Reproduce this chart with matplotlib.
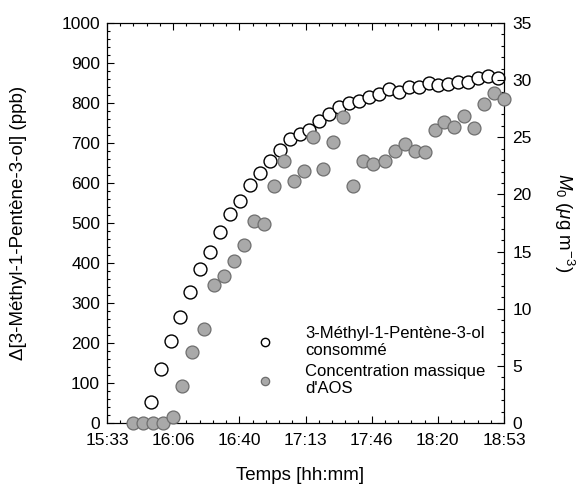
import numpy as np
import matplotlib
matplotlib.use("Agg")
import matplotlib.pyplot as plt
from matplotlib.lines import Line2D
from matplotlib.ticker import FixedLocator, FuncFormatter, MultipleLocator

plt.rcParams['font.family'] = ['Liberation Sans', 'DejaVu Sans']
plt.rcParams['mathtext.fontset'] = 'custom'
plt.rcParams['mathtext.rm'] = 'Liberation Sans'
plt.rcParams['mathtext.it'] = 'Liberation Sans:italic'

# 3-methyl-1-penten-3-ol consumed (ppb)
open_times = ["15:55", "16:00", "16:05", "16:10", "16:15", "16:20", "16:25", "16:30", "16:35",
              "16:40", "16:45", "16:50", "16:55", "17:00", "17:05", "17:10", "17:15", "17:20",
              "17:25", "17:30", "17:35", "17:40", "17:45", "17:50", "17:55", "18:00", "18:05",
              "18:10", "18:15", "18:20", "18:25", "18:30", "18:35", "18:40", "18:45", "18:50"]
open_ppb = [53, 134, 205, 266, 327, 384, 427, 477, 522, 555,
            594, 624, 656, 682, 709, 722, 732, 755, 772, 789,
            799, 805, 816, 822, 834, 828, 841, 839, 851, 845,
            848, 852, 853, 862, 867, 862]

# SOA mass concentration (ug m-3)
aos_times = ["15:46", "15:51", "15:56", "16:01", "16:06", "16:11", "16:16", "16:22", "16:27",
             "16:32", "16:37", "16:42", "16:47", "16:52", "16:57", "17:02", "17:07", "17:12",
             "17:17", "17:22", "17:27", "17:32", "17:37", "17:42", "17:47", "17:53", "17:58",
             "18:03", "18:08", "18:13", "18:18", "18:23", "18:28", "18:33", "18:38", "18:43",
             "18:48", "18:53"]
aos_mass = [0, 0, 0, 0, 0.5, 3.24, 6.19, 8.2, 12.1, 12.9,
            14.2, 15.6, 17.7, 17.4, 20.7, 22.95, 21.2, 22.05, 25.05, 22.2,
            24.56, 26.8, 20.7, 22.9, 22.7, 22.9, 23.8, 24.4, 23.8, 23.7,
            25.6, 26.3, 25.9, 26.9, 25.8, 27.9, 28.85, 28.35]

tick_start, tick_end = "15:33", "18:53"


def to_min(s):
    h, m = s.split(":")
    return int(h) * 60 + int(m)


def fmt_time(v, pos=None):
    v = int(round(v))
    return "%d:%02d" % (v // 60, v % 60)


t_open = np.array([to_min(s) for s in open_times])
t_aos = np.array([to_min(s) for s in aos_times])
x0, x1 = to_min(tick_start), to_min(tick_end)

fig = plt.figure(figsize=(5.77, 4.86), dpi=100)
ax = fig.add_axes([107 / 577, 63 / 486, 397 / 577, 400 / 486])
ax2 = ax.twinx()

ax.plot(t_open, open_ppb, 'o', ms=9.3, mfc='white', mec='black', mew=1.0, clip_on=False, zorder=3)
ax2.plot(t_aos, aos_mass, 'o', ms=9.3, mfc='#a9a9a9', mec='#6e6e6e', mew=0.9, clip_on=False, zorder=3)

ax.set_xlim(x0, x1)
ax.set_ylim(0, 1000)
ax2.set_ylim(0, 35)

ax.xaxis.set_major_locator(FixedLocator(np.linspace(x0, x1, 7)))
ax.xaxis.set_minor_locator(FixedLocator(np.linspace(x0, x1, 31)))
ax.xaxis.set_major_formatter(FuncFormatter(fmt_time))
ax.yaxis.set_major_locator(MultipleLocator(100))
ax.yaxis.set_minor_locator(MultipleLocator(20))
ax2.yaxis.set_major_locator(MultipleLocator(5))
ax2.yaxis.set_minor_locator(MultipleLocator(1))

ax.tick_params(which='both', direction='in', top=True, right=False, width=0.8, labelsize=12.5)
ax.tick_params(which='major', length=5)
ax.tick_params(axis='x', which='major', pad=7)
ax.tick_params(axis='y', which='major', pad=5)
ax.tick_params(which='minor', length=2.5)
ax2.tick_params(which='both', direction='in', width=0.8, labelsize=12.5)
ax2.tick_params(which='major', length=5, pad=6)
ax2.tick_params(which='minor', length=2.5)
for a in (ax, ax2):
    for sp in a.spines.values():
        sp.set_linewidth(0.8)

ax.set_xlabel("Temps [hh:mm]", fontsize=13.5)
ax.xaxis.set_label_coords(0.487, -0.11)
ax.set_ylabel("Δ[3-Méthyl-1-Pentène-3-ol] (ppb)", fontsize=13.5)
ax.yaxis.set_label_coords(-0.2015, 0.5)
ax2.set_ylabel(r"$M_0\ (\mu\mathrm{g\ m}^{-3})$", fontsize=13.5, rotation=270, va='bottom')
ax2.yaxis.set_label_coords(1.122, 0.5)

handles = [
    Line2D([], [], ls='none', marker='o', ms=6, mfc='white', mec='black', mew=1.0),
    Line2D([], [], ls='none', marker='o', ms=6, mfc='#a9a9a9', mec='#6e6e6e', mew=0.9),
]
labels = ["3-Méthyl-1-Pentène-3-ol\nconsommé", "Concentration massique\nd'AOS"]
leg = ax2.legend(handles, labels, loc='upper left', bbox_to_anchor=(0.356, 0.2425),
                 frameon=False, fontsize=12, borderpad=0, borderaxespad=0,
                 handlelength=2, handletextpad=1.4, labelspacing=0.4)
for t in leg.get_texts():
    t.set_linespacing(1.15)

fig.savefig("out.png", dpi=100)
